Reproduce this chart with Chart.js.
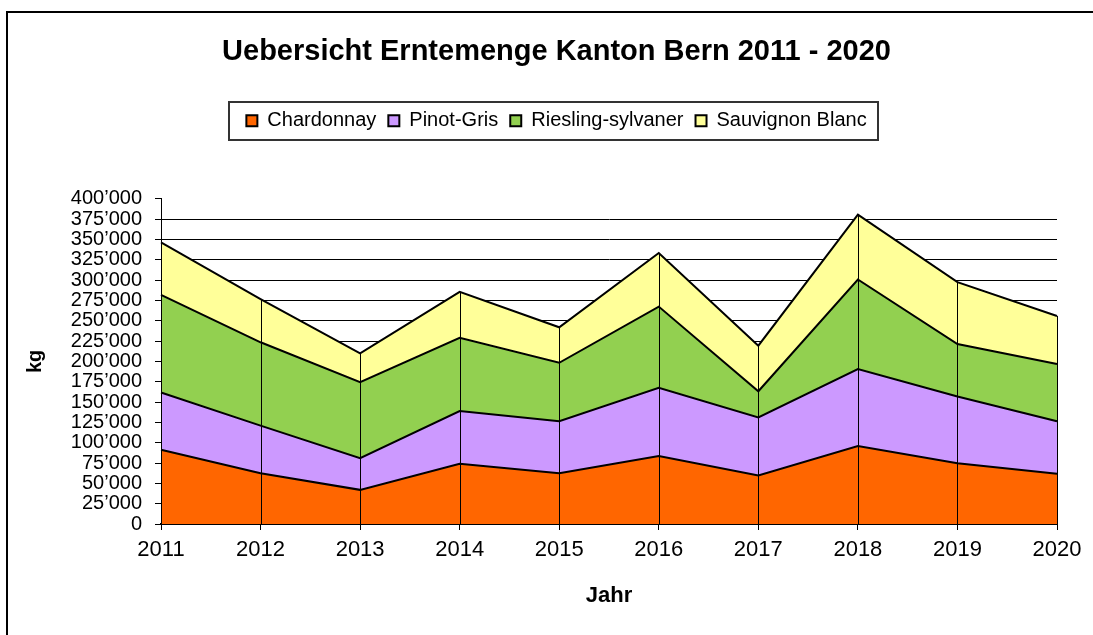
<!DOCTYPE html>
<html>
<head>
<meta charset="utf-8">
<script src="https://cdn.jsdelivr.net/npm/chart.js@4.4.1/dist/chart.umd.min.js"></script>
<style>
  html, body { margin: 0; padding: 0; background: #fff; overflow: hidden; }
  #wrap { position: relative; width: 1093px; height: 635px; }
  #chart { position: absolute; left: 0; top: 0; }
  #frame { position: absolute; left: 6px; top: 11px; width: 2000px; height: 2000px; border: 2px solid #000; pointer-events: none; }
</style>
</head>
<body>
<div id="wrap">
  <canvas id="chart" width="1093" height="635"></canvas>
  <div id="frame"></div>
</div>
<script>
// Erntemenge in kg, gelesen aus der Grafik
const years = ['2011', '2012', '2013', '2014', '2015', '2016', '2017', '2018', '2019', '2020'];
const chardonnay = [91400, 62500, 42000, 74000, 62500, 83500, 59600, 95800, 74800, 61700];
const pinotGris  = [70300, 58500, 39000, 65000, 63800, 83900, 71600, 94700, 82000, 64600];
const riesling   = [120200, 102500, 93400, 90100, 72000, 100000, 32100, 110200, 64600, 70400];
const sauvignon  = [64500, 53000, 35500, 56500, 43700, 65900, 56000, 79900, 76100, 59200];
const yMax = 400000;
const yStep = 25000;

const LEGEND_GAP = 58;

function swissNumber(v) {
  return Math.round(v).toString().replace(/\B(?=(\d{3})+(?!\d))/g, '\u2019');
}

Chart.defaults.color = '#000';
Chart.defaults.font.family = "'Liberation Sans', Arial, sans-serif";

// extra space under the legend + frame around it
const legendBox = {
  id: 'legendBox',
  afterInit(chart) {
    const legend = chart.legend;
    const fit = legend.fit;
    legend.fit = function () {
      fit.call(this);
      this.height += LEGEND_GAP;
    };
  },
  afterDraw(chart) {
    const boxes = chart.legend.legendHitBoxes;
    if (!boxes || !boxes.length) return;
    const left = Math.min(...boxes.map(b => b.left));
    const right = Math.max(...boxes.map(b => b.left + b.width));
    const mid = boxes[0].top + boxes[0].height / 2;
    const ctx = chart.ctx;
    ctx.save();
    ctx.strokeStyle = '#333';
    ctx.lineWidth = 2;
    ctx.strokeRect(Math.round(left - 17), Math.round(mid - 19), Math.round(right - left + 29), 38);
    ctx.restore();
  }
};

// vertical lines at every year, from 0 up to the stack top
const dropLines = {
  id: 'dropLines',
  afterDatasetsDraw(chart) {
    const ctx = chart.ctx;
    const y = chart.scales.y;
    const last = chart.getDatasetMeta(chart.data.datasets.length - 1);
    ctx.save();
    ctx.strokeStyle = '#000';
    ctx.lineWidth = 1;
    last.data.forEach((pt) => {
      const x = Math.round(pt.x) + 0.5;
      ctx.beginPath();
      ctx.moveTo(x, y.getPixelForValue(0));
      ctx.lineTo(x, pt.y);
      ctx.stroke();
    });
    ctx.restore();
  }
};

function series(label, data, color, fill) {
  return {
    label, data,
    backgroundColor: color,
    borderColor: '#000',
    borderWidth: 2,
    pointRadius: 0,
    tension: 0,
    fill
  };
}

new Chart(document.getElementById('chart'), {
  type: 'line',
  data: {
    labels: years,
    datasets: [
      series('Chardonnay', chardonnay, '#FF6600', 'origin'),
      series('Pinot-Gris', pinotGris, '#CC99FF', '-1'),
      series('Riesling-sylvaner', riesling, '#92D050', '-1'),
      series('Sauvignon Blanc', sauvignon, '#FFFF99', '-1')
    ]
  },
  options: {
    responsive: false,
    animation: false,
    devicePixelRatio: 1,
    layout: { padding: { left: 20, right: 0, top: 0, bottom: 0 } },
    plugins: {
      title: {
        display: true,
        text: 'Uebersicht Erntemenge Kanton Bern 2011 - 2020',
        font: { size: 29, weight: 'bold', lineHeight: 1.2 },
        padding: { top: 35, bottom: 29 }
      },
      legend: {
        display: true,
        labels: {
          boxWidth: 11,
          boxHeight: 11,
          padding: 12,
          font: { size: 20 }
        }
      },
      tooltip: { enabled: false }
    },
    scales: {
      x: {
        type: 'category',
        offset: false,
        grid: { drawOnChartArea: false, drawTicks: true, tickLength: 6, tickColor: '#000' },
        border: { display: true, color: '#000', width: 2 },
        ticks: { font: { size: 22 }, padding: 7, maxRotation: 0, autoSkip: false },
        title: { display: true, text: 'Jahr', font: { size: 22, weight: 'bold' }, padding: { top: 0, bottom: 26 } },
        afterFit(scale) { scale.height = 111; }
      },
      y: {
        stacked: true,
        min: 0,
        max: yMax,
        grid: {
          color: c => (c.tick && c.tick.value === yMax) ? 'rgba(0,0,0,0)' : '#000',
          lineWidth: 1,
          tickLength: 6,
          tickColor: '#000'
        },
        border: { display: true, color: '#000', width: 1 },
        ticks: {
          stepSize: yStep,
          autoSkip: false,
          padding: 13,
          font: { size: 20, lineHeight: 1 },
          callback: v => swissNumber(v)
        },
        title: { display: true, text: 'kg', font: { size: 20, weight: 'bold' }, padding: { top: 3, bottom: 0 } },
        afterFit(scale) { scale.width = 141; }
      },
      spacer: {
        type: 'linear',
        position: 'right',
        display: true,
        grid: { display: false },
        border: { display: false },
        ticks: { display: false },
        afterFit(scale) { scale.width = 36; }
      }
    }
  },
  plugins: [legendBox, dropLines]
});
</script>
</body>
</html>
